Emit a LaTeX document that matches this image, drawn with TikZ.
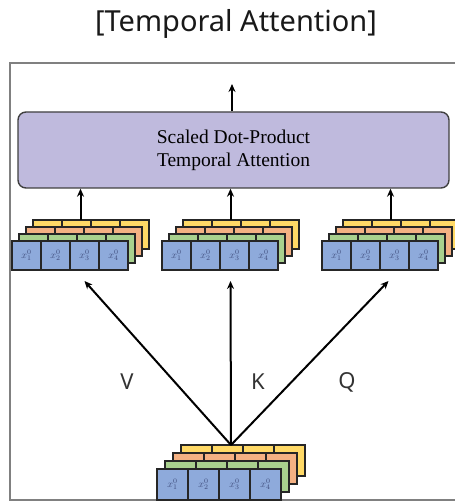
\documentclass[tikz,border=0pt]{standalone}
\usepackage{fontspec}
\setmainfont{Liberation Serif}
\newfontfamily\headfont{Noto Sans}
\usetikzlibrary{arrows.meta}

\definecolor{tokblue}{HTML}{8EAADB}
\definecolor{tokgreen}{HTML}{A9D18E}
\definecolor{tokorange}{HTML}{F4B183}
\definecolor{tokyellow}{HTML}{FFD966}
\definecolor{attfill}{HTML}{BFBADD}
\definecolor{celltext}{HTML}{3E4C7C}

\tikzset{
  cell/.style={draw=black!85, line width=1.4pt, inner sep=0pt},
  attbox/.style={draw=black!75, line width=1.4pt, fill=attfill, rounded corners=8pt, align=center,
    font=\fontsize{19.5}{23}\selectfont},
  frame/.style={draw=black!50, line width=1.8pt},
  qkv/.style={font=\headfont\fontsize{22}{24}\selectfont, text=black!80},
  flow/.style={->, line width=2pt},
}

% one stack of token rows: name, left x, top y of the front row, cell size, layer offset
\newcommand{\tokstack}[5]{%
  \foreach \lay/\col in {3/tokyellow,2/tokorange,1/tokgreen}
    \foreach \i in {0,...,3}
      \node[cell, fill=\col, minimum size=#4pt] at ({#2+(\i+0.5)*#4+\lay*#5}, {#3+0.5*#4-\lay*#5}) {};
  \foreach \i in {1,...,4}
    \node[cell, fill=tokblue, minimum size=#4pt, text=celltext, font=\fontsize{10}{10}\selectfont] (#1-\i)
      at ({#2+(\i-0.5)*#4}, {#3+0.5*#4}) {$x^{0}_{\i}$};
  \coordinate (#1-top) at ({#2+2*#4+1.5*#5}, {#3-3*#5});
  \coordinate (#1-bot) at ({#2+2*#4+1.5*#5}, {#3+#4});
}

\begin{document}
\begin{tikzpicture}[x=1pt, y=-1pt, >={Stealth[length=8pt, width=7pt]}]
\useasboundingbox (0,0) rectangle (454,502);
\node[font=\headfont\fontsize{29}{34}\selectfont, text=black!90] (title) at (236,24) {[Temporal Attention]};
\draw[frame] (10,63) rectangle (470,500);

\node[attbox, minimum width=431pt, minimum height=76pt] (att) at (233.5,150) {Scaled Dot-Product\\Temporal Attention};
\coordinate (out) at (232,84);
\draw[flow] (att.north -| out) -- (out);

\tokstack{v}{12}{241}{29}{7}
\tokstack{k}{162}{241}{29}{7}
\tokstack{q}{322}{241}{29}{7}
\tokstack{x}{157}{469}{31}{8}

\draw[flow] (v-top) -- (v-top |- att.south);
\draw[flow] (k-top) -- (k-top |- att.south);
\draw[flow] (q-top) -- (q-top |- att.south);

\draw[flow] (x-top) -- ([xshift=4pt, yshift=-11pt]v-bot);
\draw[flow] (x-top) -- ([yshift=-11pt]k-bot);
\draw[flow] (x-top) -- ([xshift=-2pt, yshift=-11pt]q-bot);

\node[qkv] (lv) at (127,382) {V};
\node[qkv] (lk) at (258,382) {K};
\node[qkv] (lq) at (347,382) {Q};
\end{tikzpicture}
\end{document}
